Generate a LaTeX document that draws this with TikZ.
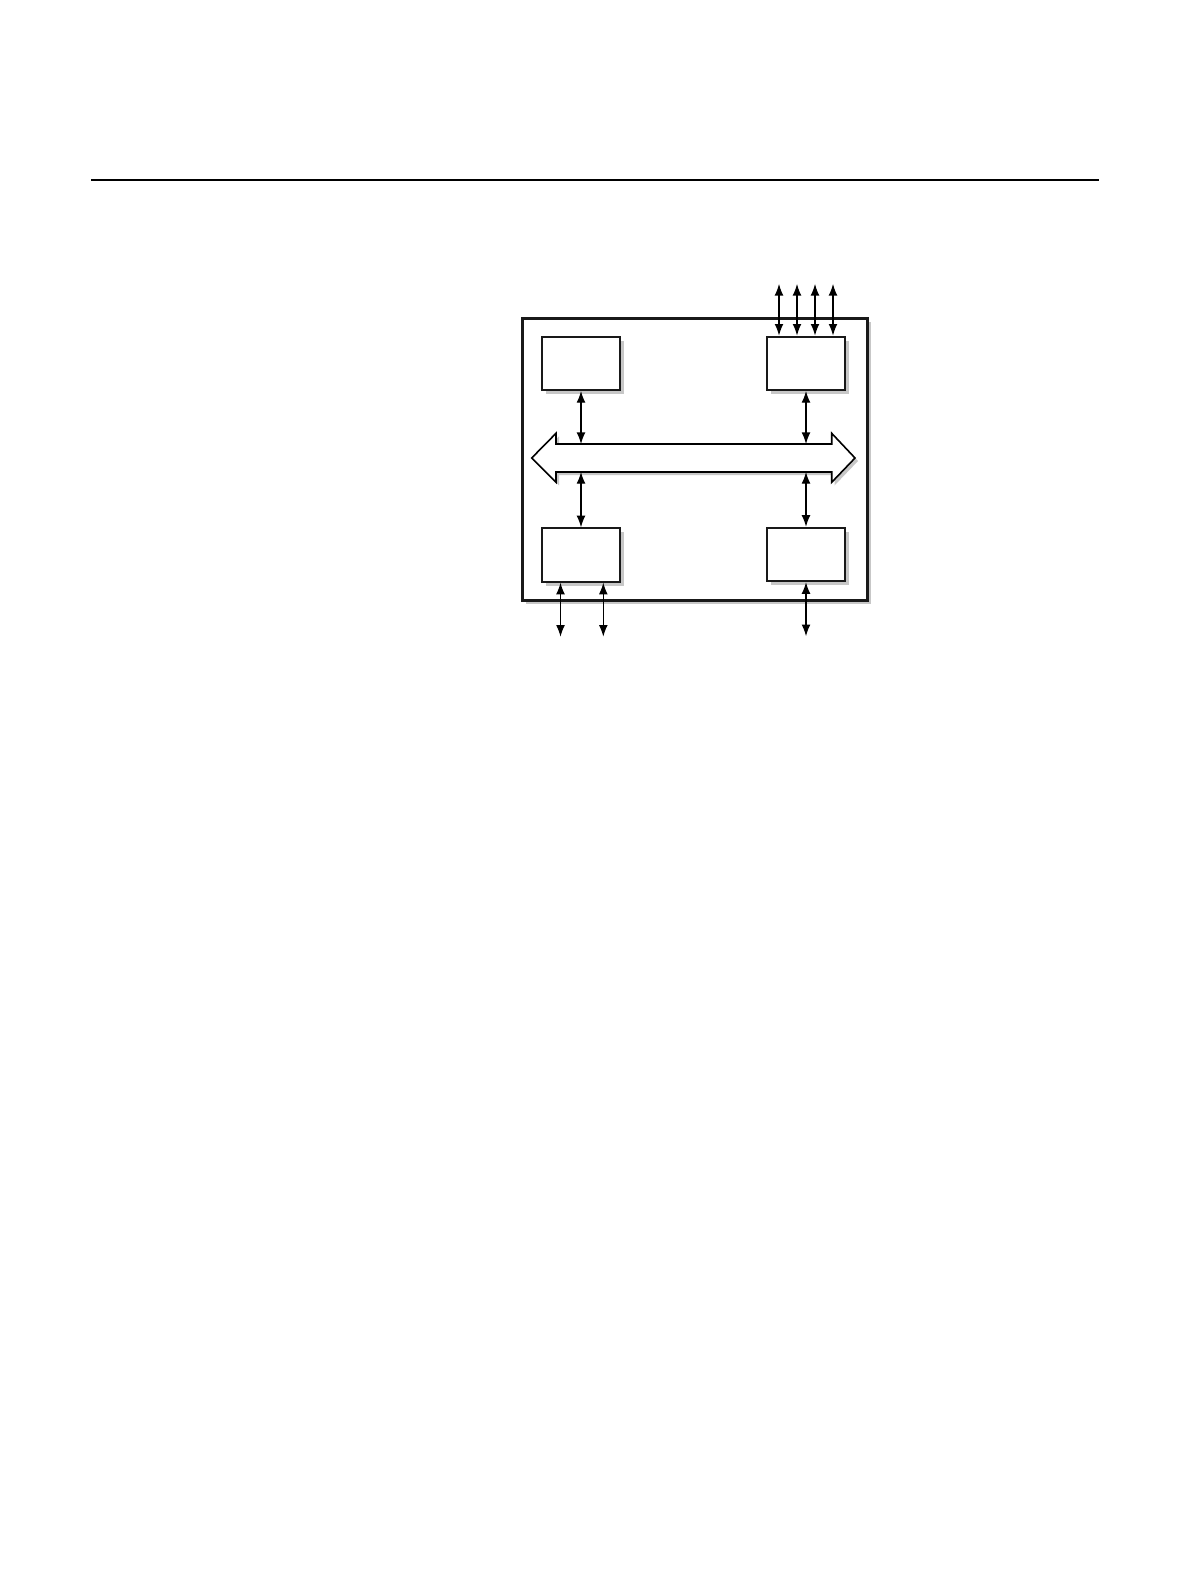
\documentclass[tikz,border=0pt]{standalone}
\usetikzlibrary{arrows.meta,shadows,calc}
\begin{document}
\begin{tikzpicture}[x=0.5pt,y=-0.5pt,
  blk/.style={draw=black!90,line width=1pt,fill=white,minimum width=39pt,minimum height=26.7pt,inner sep=0pt,
    drop shadow={shadow xshift=2pt,shadow yshift=-2pt,fill=black!22,opacity=1}},
  outer/.style={draw=black!90,line width=1.5pt,fill=white,minimum width=172.5pt,minimum height=141pt,inner sep=0pt,
    drop shadow={shadow xshift=2pt,shadow yshift=-2pt,fill=black!22,opacity=1}},
  bi/.style={line width=0.6pt,{Latex[length=5.8pt,width=4.4pt]}-{Latex[length=5.8pt,width=4.4pt]}},
  bus/.style={draw=black,line width=0.8pt,fill=white,line join=miter}
]
\useasboundingbox (0,0) rectangle (1190,1584);
% header rule
\coordinate (hl) at (91,180);
\coordinate (hr) at (1099,180);
\draw[line width=1pt] (hl) -- (hr);
% outer frame
\node[outer] (frame) at (694.5,459) {};
% blocks
\node[blk] (tl) at (581,363.3) {};
\node[blk] (tr) at (806,363.3) {};
\node[blk] (bl) at (581,555) {};
\node[blk] (br) at (806,554.5) {};
% bus
\coordinate (busN) at (693,444);
\coordinate (busS) at (693,472);
\fill[black!22] (534.7,461) -- (559,436.3) -- (559,447) -- (834.7,447) -- (834.7,436.3) -- (858,461) -- (834.7,485.3) -- (834.7,475) -- (559,475) -- (559,485.3) -- cycle;
\draw[bus] (531.7,458) -- (556,433.3) -- (556,444) -- (831.7,444) -- (831.7,433.3) -- (855,458)
  -- (831.7,482.3) -- (831.7,472) -- (556,472) -- (556,482.3) -- cycle;
% block-bus links
\draw[bi] (tl.south) -- (tl.south |- busN);
\draw[bi] (tr.south) -- (tr.south |- busN);
\draw[bi] (busS -| bl.north) -- (bl.north);
\draw[bi] (busS -| br.north) -- (br.north);
% external links top right
\foreach \dx/\n in {-27/a,-9/b,9/c,27/d}{
  \coordinate (t\n) at ($(tr.north)+(\dx,-51.7)$);
  \draw[bi] (t\n) -- (t\n |- tr.north);
}
% external links bottom
\coordinate (ba) at ($(bl.south)+(-20.5,54)$);
\coordinate (bb) at ($(bl.south)+(22.3,54)$);
\coordinate (bc) at ($(br.south)+(0,54)$);
\draw[bi] (ba |- bl.south) -- (ba);
\draw[bi] (bb |- bl.south) -- (bb);
\draw[bi] (br.south) -- (bc);
\end{tikzpicture}
\end{document}
